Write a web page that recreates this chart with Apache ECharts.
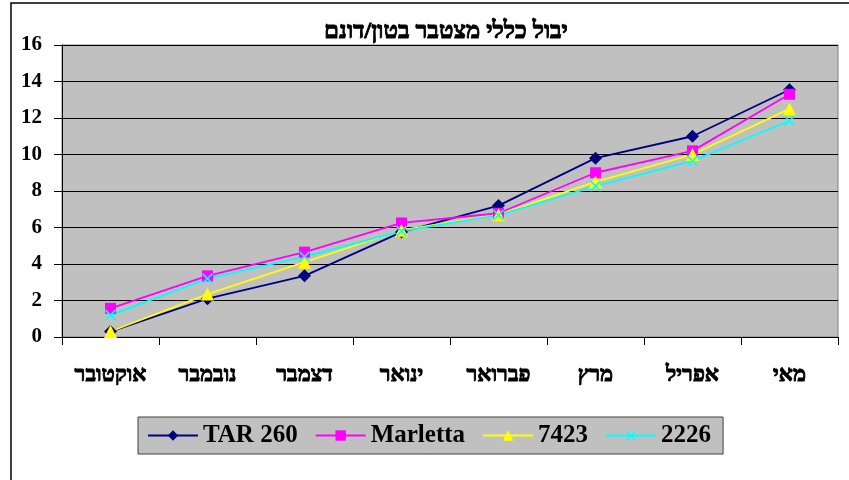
<!DOCTYPE html>
<html>
<head>
<meta charset="utf-8">
<script src="https://cdn.jsdelivr.net/npm/echarts@6/dist/echarts.min.js"></script>
<style>
html, body { margin: 0; padding: 0; background: #fff; }
#chart { width: 849px; height: 480px; }
</style>
</head>
<body>
<div id="chart"></div>
<script>
var months = ['אוקטובר', 'נובמבר', 'דצמבר', 'ינואר', 'פברואר', 'מרץ', 'אפריל', 'מאי'];
var tar260 = [0.3, 2.1, 3.35, 5.75, 7.2, 9.8, 11.0, 13.55];
var marletta = [1.57, 3.35, 4.65, 6.25, 6.78, 9.0, 10.2, 13.3];
var s7423 = [0.3, 2.35, 4.1, 5.85, 6.7, 8.5, 10.0, 12.5];
var s2226 = [1.2, 3.2, 4.4, 5.8, 6.68, 8.27, 9.65, 11.85];

var serif = "'Liberation Serif', 'DejaVu Serif', serif";
var xMark = 'path://M0,1L1,0L5,4L9,0L10,1L6,5L10,9L9,10L5,6L1,10L0,9L4,5Z';

var myChart = echarts.init(document.getElementById('chart'));

function lineSeries(name, data, color, symbol, size) {
    return {
        name: name,
        type: 'line',
        data: data,
        symbol: symbol,
        symbolSize: size,
        showAllSymbol: true,
        lineStyle: { color: color, width: 1.8 },
        itemStyle: { color: color },
        emphasis: { disabled: true },
        animation: false
    };
}

var option = {
    backgroundColor: '#ffffff',
    title: {
        text: 'יבול כללי מצטבר בטון/דונם',
        left: 441,
        textAlign: 'center',
        top: 15,
        textStyle: {
            fontFamily: serif, fontWeight: 'bold', fontSize: 24, color: '#000',
            textBorderColor: '#000', textBorderWidth: 0.9
        }
    },
    graphic: [
        {
            type: 'rect',
            shape: { x: 11, y: 3, width: 900, height: 600 },
            style: { fill: 'none', stroke: '#000', lineWidth: 1.5 },
            silent: true
        }
    ],
    legend: {
        left: 138,
        top: 417,
        padding: [6, 12, 6, 9],
        itemWidth: 50,
        itemHeight: 13,
        itemGap: 17,
        backgroundColor: '#c0c0c0',
        borderColor: '#404040',
        borderWidth: 1,
        textStyle: { fontFamily: serif, fontWeight: 'bold', fontSize: 25, color: '#000' },
        data: ['TAR 260', 'Marletta', '7423', '2226']
    },
    grid: {
        left: 62,
        right: 11,
        top: 45,
        bottom: 143,
        show: true,
        backgroundColor: '#c0c0c0',
        borderColor: '#808080',
        borderWidth: 1
    },
    xAxis: {
        type: 'category',
        data: months,
        boundaryGap: true,
        axisLine: { lineStyle: { color: '#000', width: 1 } },
        axisTick: { show: true, length: 8, alignWithLabel: false, lineStyle: { color: '#000' } },
        axisLabel: {
            margin: 27, fontFamily: serif, fontWeight: 'bold', fontSize: 22, color: '#000', interval: 0,
            textBorderColor: '#000', textBorderWidth: 0.9
        },
        splitLine: { show: false }
    },
    yAxis: {
        type: 'value',
        min: 0,
        max: 16,
        interval: 2,
        axisLine: { show: true, lineStyle: { color: '#000', width: 1 } },
        axisTick: { show: true, length: 8, lineStyle: { color: '#000' } },
        axisLabel: { margin: 20, fontFamily: serif, fontWeight: 'bold', fontSize: 21, color: '#000' },
        splitLine: { show: true, lineStyle: { color: '#000', width: 1 } }
    },
    series: [
        lineSeries('TAR 260', tar260, '#000080', 'diamond', 13),
        lineSeries('Marletta', marletta, '#ff00ff', 'rect', 11),
        lineSeries('7423', s7423, '#ffff00', 'triangle', 13),
        lineSeries('2226', s2226, '#00ffff', xMark, 11)
    ]
};
myChart.setOption(option);
</script>
</body>
</html>
